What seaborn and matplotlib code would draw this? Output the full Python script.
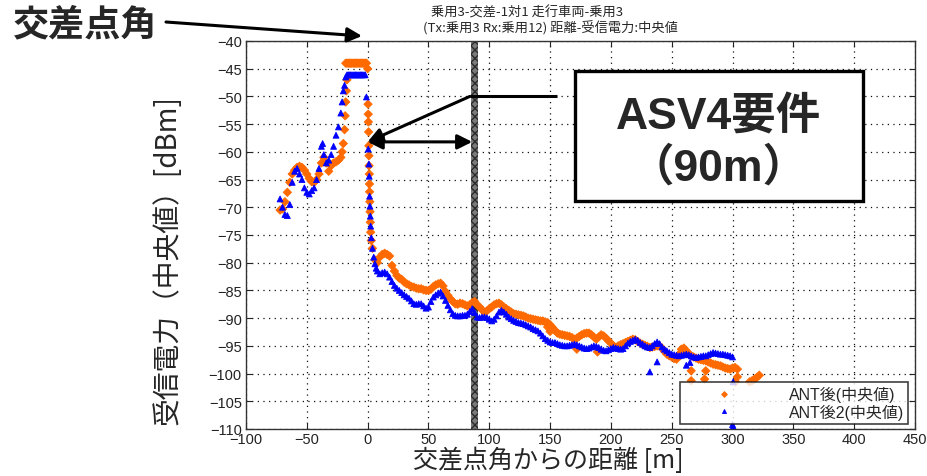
import numpy as np
import pandas as pd
import matplotlib
matplotlib.use('Agg')
import matplotlib.pyplot as plt
import seaborn as sns
from matplotlib.patches import Rectangle

# ---------------- data ----------------
SERIES = ['ANT後(中央値)', 'ANT後2(中央値)']
COLORS = ['#ff6a00', '#0000ff']

# ANT後 (orange)
ant1_x_early = [-72, -70, -68, -66, -64, -62, -60, -58, -56, -54, -52, -50, -48, -46, -44, -42, -40,
                -38, -36, -34, -32, -30, -28, -26, -24, -22, -21, -20, -19, -18.5, -18, -17.5, -17]
ant1_y_early = [-70.5, -70.3, -69.0, -67.3, -65.5, -64.0, -63.3, -62.8, -62.6, -62.8, -63.3, -64.0,
                -64.8, -65.4, -65.5, -65.0, -64.0, -62.0, -61.0, -62.0, -63.5, -62.5, -62.0, -61.8,
                -61.5, -61.0, -60.0, -58.5, -56.0, -53.5, -51.0, -49.0, -47.0]
ant1_x_flat = [-18, -17, -16, -15, -14, -13, -12, -11, -10, -9, -8, -7, -6, -5, -4, -3, -2, -1]
ant1_y_flat = [-44.0] * 18
ant1_x_drop = [0, 0.3, 0.5, 0.6, 0.8, 1.0, 1.1, 1.2, 1.4, 1.5, 1.6, 1.8, 2.0, 2.2, 2.5, 3.0]
ant1_y_drop = [-45.0, -51.4, -53.2, -54.6, -56.4, -58.9, -60.7, -62.5, -64.0, -65.8, -67.2,
               -69.0, -70.8, -72.7, -74.5, -76.0]
ant1_x_main = [4, 6, 8, 10, 12, 14, 16, 18, 20, 22, 24, 26, 28, 30, 32, 34, 36, 38, 40, 42, 44, 46,
               48, 50, 52, 54, 56, 58, 60, 62, 64, 66, 68, 70, 72, 74, 76, 78, 80, 82, 84, 86, 88,
               90, 92, 94, 96, 98, 100, 102, 104, 106, 108, 110, 112, 114, 116, 118, 120, 122, 124,
               126, 128, 130, 132, 134, 136, 138, 140, 142, 144, 146, 148, 150, 152, 154, 156, 158,
               160, 162, 164, 166, 168, 170, 172, 174, 176, 178, 180, 182, 184, 186, 188, 190, 192,
               194, 196, 198, 200, 202, 204, 206, 208, 210, 212, 214, 216, 218, 220, 222, 224, 226,
               228, 230, 232, 234, 236, 238, 240, 242, 244, 246, 248, 250, 252, 254, 256, 258, 260,
               262, 264, 266, 268, 270, 272, 274, 276, 278, 280, 282, 284, 286, 288, 290, 292, 294,
               296, 298, 300, 302, 304, 314, 316, 318, 320, 322]
ant1_y_main = [-77.4, -79.5, -80.0, -79.0, -78.5, -78.3, -78.5, -78.8, -80.5, -81.5, -82.3, -82.8,
               -83.0, -83.5, -83.8, -84.0, -84.3, -84.4, -84.6, -84.7, -84.7, -84.9, -85.0, -85.0,
               -84.8, -84.3, -84.0, -83.8, -83.7, -84.2, -85.2, -85.9, -86.5, -87.0, -87.4, -87.5,
               -87.3, -87.4, -87.6, -87.8, -87.6, -87.2, -87.0, -87.6, -88.0, -88.5, -88.9, -88.7,
               -88.3, -88.0, -87.6, -87.4, -87.3, -87.6, -88.0, -88.3, -88.6, -88.9, -89.2, -89.3,
               -89.4, -89.5, -89.6, -89.8, -90.0, -90.1, -90.2, -90.3, -90.4, -90.5, -90.5, -90.7,
               -90.8, -91.2, -91.7, -92.2, -92.7, -92.9, -93.0, -93.1, -93.2, -93.3, -93.5, -93.8,
               -93.6, -93.3, -93.0, -92.8, -92.7, -92.7, -93.0, -93.4, -93.8, -93.4, -93.0, -93.2,
               -93.6, -94.1, -94.5, -95.0, -95.3, -95.0, -94.8, -94.6, -94.4, -94.2, -94.0, -93.8,
               -93.9, -94.2, -94.5, -94.7, -94.9, -95.1, -95.3, -95.2, -95.1, -95.0, -95.0, -95.4,
               -96.0, -96.5, -96.8, -97.0, -97.3, -97.4, -96.5, -95.6, -95.4, -95.9, -96.4, -96.8,
               -97.0, -97.2, -97.4, -97.5, -97.6, -97.7, -97.9, -98.1, -98.3, -98.4, -98.5, -98.6,
               -98.8, -99.0, -99.1, -99.2, -99.0, -98.9, -99.2, -101.5, -101.3, -101.0, -100.7,
               -100.3]
ant1_x_scatter = [148, 150, 172, 189, 266, 266, 277, 278, 302.5, 304]
ant1_y_scatter = [-91.6, -92.4, -95.6, -96.1, -99.5, -101.3, -101.0, -99.5, -101.5, -100.6]

# ANT後2 (blue)
ant2_x_early = [-72, -70, -68, -66, -64, -62, -60, -58, -56, -54, -52, -50, -48, -46, -44, -42, -40,
                -38, -37, -36, -34, -32, -30, -28, -26, -24, -22, -21, -20, -19, -18]
ant2_y_early = [-68.5, -70.0, -71.3, -71.5, -69.5, -65.5, -63.5, -63.0, -64.0, -65.0, -66.5, -67.3,
                -67.6, -67.0, -66.5, -65.0, -63.0, -59.0, -58.5, -60.5, -62.0, -61.5, -60.5, -59.0,
                -57.0, -55.5, -53.0, -51.0, -49.0, -48.0, -46.5]
ant2_x_flat = [-17, -16, -15, -14, -13, -12, -11, -10, -9, -8, -7, -6, -5, -4, -3, -2]
ant2_y_flat = [-46.1] * 16
ant2_x_drop = [-1, 0.5, 1.0, 1.3, 1.6, 1.9, 2.2, 2.5, 3.0]
ant2_y_drop = [-50.1, -59.5, -62.2, -64.4, -68.0, -69.8, -71.6, -73.4, -75.5]
ant2_x_main = [4, 5, 6, 7, 8, 10, 12, 14, 16, 18, 20, 22, 24, 26, 28, 30, 32, 34, 36, 38, 40, 42, 44,
               46, 48, 50, 52, 54, 56, 58, 60, 62, 64, 66, 68, 70, 72, 74, 76, 78, 80, 82, 84, 86,
               88, 90, 92, 94, 96, 98, 100, 102, 104, 106, 108, 110, 112, 114, 116, 118, 120, 122,
               124, 126, 128, 130, 132, 134, 136, 138, 140, 142, 144, 146, 148, 150, 152, 154, 156,
               158, 160, 162, 164, 166, 168, 170, 172, 174, 176, 178, 180, 182, 184, 186, 188, 190,
               192, 194, 196, 198, 200, 202, 204, 206, 208, 210, 212, 214, 216, 218, 220, 222, 224,
               226, 228, 230, 232, 234, 236, 238, 240, 242, 244, 246, 248, 250, 252, 254, 256, 258,
               260, 262, 264, 266, 268, 270, 272, 274, 276, 278, 280, 282, 284, 286, 288, 290, 292,
               294, 296, 298, 300]
ant2_y_main = [-77.4, -79.0, -80.2, -81.0, -81.5, -82.0, -81.8, -81.7, -82.0, -82.6, -83.4, -84.1,
               -84.6, -85.0, -85.4, -85.8, -86.1, -86.4, -86.9, -87.4, -87.5, -87.4, -87.4, -87.8,
               -88.2, -88.0, -87.0, -86.2, -85.8, -85.5, -85.3, -86.0, -86.8, -87.7, -88.5, -89.2,
               -89.5, -89.6, -89.6, -89.5, -89.5, -89.3, -88.8, -88.3, -89.0, -89.8, -89.9, -89.8,
               -89.8, -89.9, -90.2, -90.5, -90.2, -89.6, -88.9, -88.6, -88.9, -89.3, -89.8, -90.1,
               -90.4, -90.6, -90.8, -90.9, -91.0, -91.2, -91.4, -91.6, -91.9, -92.1, -92.3, -92.7,
               -93.2, -93.7, -94.0, -94.3, -94.4, -94.4, -94.6, -94.8, -94.9, -95.0, -95.0, -94.9,
               -94.8, -94.7, -94.8, -95.0, -95.2, -95.4, -95.5, -95.4, -95.2, -95.0, -95.1, -95.3,
               -95.6, -95.8, -95.9, -95.7, -95.5, -95.3, -95.4, -95.5, -95.6, -95.5, -95.0, -94.5,
               -94.2, -94.0, -93.8, -94.0, -94.4, -94.7, -95.0, -95.2, -95.3, -95.0, -94.6, -94.3,
               -94.6, -95.2, -95.6, -95.9, -96.2, -96.5, -96.6, -96.7, -96.8, -96.7, -96.6, -96.5,
               -96.6, -96.8, -97.0, -97.1, -97.0, -96.9, -96.8, -96.8, -96.6, -96.4, -96.2, -96.3,
               -96.4, -96.5, -96.5, -96.6, -96.7, -96.8, -97.0]
ant2_x_scatter = [232, 238, 262, 265, 300.5, 300, 300.5]
ant2_y_scatter = [-99.7, -97.9, -98.5, -98.0, -101.5, -109.2, -109.6]

X_TICKS = [-100, -50, 0, 50, 100, 150, 200, 250, 300, 350, 400, 450]
Y_TICKS = [-110, -105, -100, -95, -90, -85, -80, -75, -70, -65, -60, -55, -50, -45, -40]

TITLE1 = '乗用3-交差-1対1 走行車両-乗用3'
TITLE2 = '(Tx:乗用3 Rx:乗用12) 距離-受信電力:中央値'
XLABEL = '交差点角からの距離 [m]'
YLABEL = '受信電力（中央値）[dBm]'
CORNER_LABEL = '交差点角'
BOX_LINE1 = 'ASV4要件'
BOX_LINE2 = '（90m）'
REQ_BAND = (85, 91)
REQ_ARROW_Y = -58.2
REQ_LINE_Y = -50

# ---------------- build frame ----------------
x1 = ant1_x_early + ant1_x_flat + ant1_x_drop + ant1_x_main + ant1_x_scatter
y1 = ant1_y_early + ant1_y_flat + ant1_y_drop + ant1_y_main + ant1_y_scatter
x2 = ant2_x_early + ant2_x_flat + ant2_x_drop + ant2_x_main + ant2_x_scatter
y2 = ant2_y_early + ant2_y_flat + ant2_y_drop + ant2_y_main + ant2_y_scatter
df = pd.DataFrame({
    'dist': x1 + x2,
    'rssi': y1 + y2,
    'series': [SERIES[0]] * len(x1) + [SERIES[1]] * len(x2),
})

# ---------------- style ----------------
sns.set_style('ticks')
plt.rcParams['font.family'] = ['Liberation Sans', 'Noto Sans CJK JP']
plt.rcParams['axes.unicode_minus'] = True

fig = plt.figure(figsize=(9.28, 4.77), dpi=100)
ax = fig.add_axes([246 / 928, 1 - 430 / 477, (915 - 246) / 928, (430 - 42) / 477])

# requirement band (hatched)
ax.axvspan(REQ_BAND[0], REQ_BAND[1], facecolor='#7a7a7a', edgecolor='#2a2a2a',
           hatch='xxxx', linewidth=0, zorder=1)

sns.scatterplot(data=df, x='dist', y='rssi', hue='series', style='series',
                palette=dict(zip(SERIES, COLORS)),
                markers={SERIES[0]: 'D', SERIES[1]: '^'},
                s=18, linewidth=0.6, edgecolor='face', ax=ax, zorder=3, legend=True)

ax.set_xlim(-100, 450)
ax.set_ylim(-110, -40)
ax.set_xticks(X_TICKS)
ax.set_yticks(Y_TICKS)
ax.tick_params(direction='in', top=True, right=True, length=4, width=0.8,
               labelsize=10.5, pad=3, colors='#222222')
ax.tick_params(axis='x', pad=2)
for sp in ax.spines.values():
    sp.set_visible(True)
    sp.set_color('#333333')
    sp.set_linewidth(1.0)
ax.grid(True, linestyle=(0, (1, 3.5)), color='#111111', linewidth=0.9)
ax.set_axisbelow(True)

ax.set_xlabel('')
ax.set_ylabel('')
fig.text(548 / 928, 1 - 461 / 477, XLABEL, ha='center', va='center', fontsize=18,
         family=['Noto Sans CJK JP'])
fig.text(168 / 928, 1 - 260 / 477, YLABEL, ha='center', va='center', fontsize=20,
         rotation=90, family=['Noto Sans CJK JP'])
fig.text(527 / 928, 1 - 13 / 477, TITLE1, ha='center', va='center', fontsize=9.5,
         family=['Noto Sans CJK JP'])
fig.text(550 / 928, 1 - 28 / 477, TITLE2, ha='center', va='center', fontsize=9.5,
         family=['Noto Sans CJK JP'])

# legend
handles, labels = ax.get_legend_handles_labels()
leg = ax.legend(handles, labels, loc='lower right', bbox_to_anchor=(0.99, 0.013),
                frameon=True, fancybox=False, edgecolor='#111111',
                handlelength=5.0, handletextpad=1.6, borderpad=0.25, labelspacing=0.1,
                borderaxespad=0, markerscale=0.7,
                prop={'family': ['Liberation Sans', 'Noto Sans CJK JP'], 'size': 11.5})
leg.get_frame().set_linewidth(1.2)

# corner label and arrow
fig.text(85 / 928, 1 - 25 / 477, CORNER_LABEL, ha='center', va='center', fontsize=26,
         fontweight='bold', family=['Noto Sans CJK JP'])
ax.annotate('', xy=(362, 477 - 37), xycoords='figure pixels',
            xytext=(166, 477 - 23), textcoords='figure pixels',
            arrowprops=dict(arrowstyle='-|>', mutation_scale=22, lw=2.2, color='black',
                            shrinkA=0, shrinkB=0), annotation_clip=False)

# requirement arrows
ax.annotate('', xy=(0, REQ_ARROW_Y), xytext=(REQ_BAND[1] - 5, REQ_ARROW_Y),
            arrowprops=dict(arrowstyle='<|-|>', mutation_scale=22, lw=2.2, color='black',
                            shrinkA=0, shrinkB=0))
ax.annotate('', xy=(0, REQ_ARROW_Y), xytext=(84, REQ_LINE_Y),
            arrowprops=dict(arrowstyle='-|>', mutation_scale=22, lw=2.2, color='black',
                            shrinkA=0, shrinkB=0))
ax.plot([84, 156], [REQ_LINE_Y, REQ_LINE_Y], color='black', lw=2.2, zorder=5,
        solid_capstyle='butt')

# requirement box
box = Rectangle((575, 477 - 202), 288, 130, transform=None, facecolor='white',
                edgecolor='black', linewidth=2.4, zorder=6)
fig.patches.append(box)
fig.text(719 / 928, 1 - 117 / 477, BOX_LINE1, ha='center', va='center', fontsize=32,
         fontweight='bold', family=['Liberation Sans', 'Noto Sans CJK JP'], zorder=7)
fig.text(719 / 928, 1 - 168 / 477, BOX_LINE2, ha='center', va='center', fontsize=32,
         fontweight='bold', family=['Liberation Sans', 'Noto Sans CJK JP'], zorder=7)

fig.savefig('out.png', dpi=100)
